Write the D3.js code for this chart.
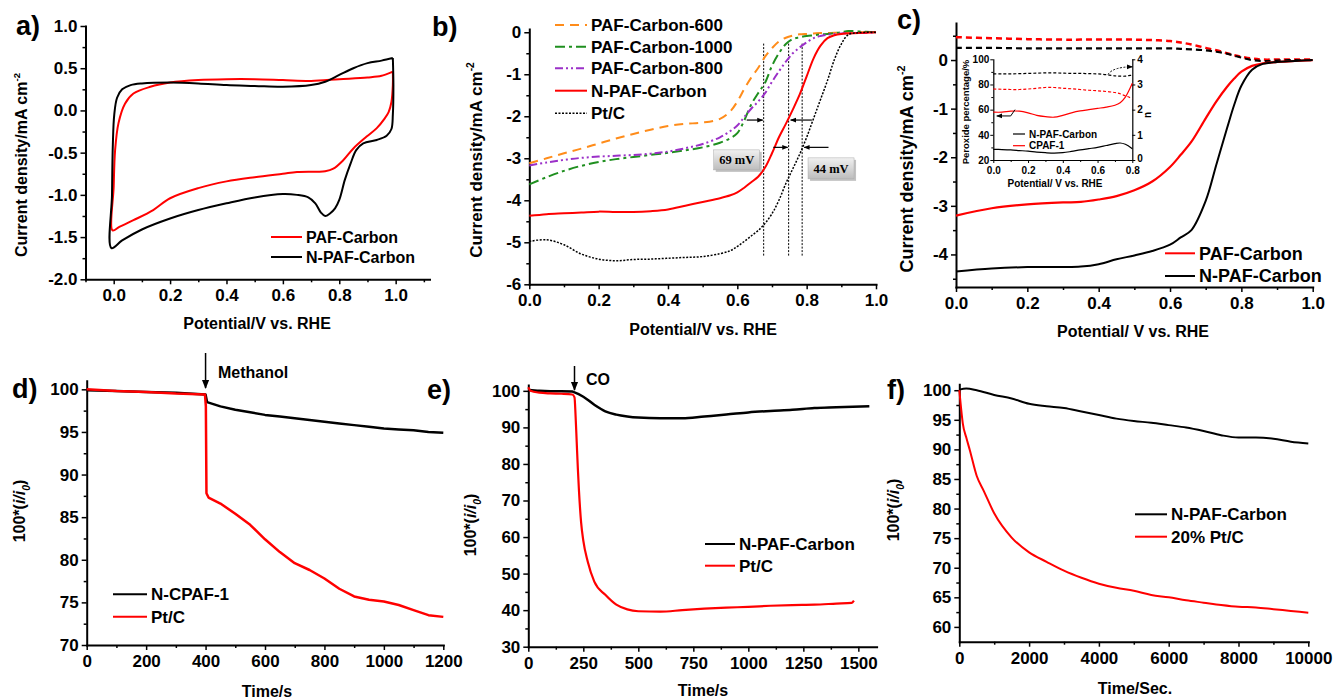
<!DOCTYPE html>
<html><head><meta charset="utf-8">
<script src="https://cdn.jsdelivr.net/npm/d3@7"></script>
<style>
body{margin:0;background:#fff}
svg{display:block}
</style></head><body>
<svg id="chart" width="1333" height="699"></svg>
<script>
// ---------------- DATA ----------------
// a) CV loops (potential V, current density mA cm-2)
const aPafV = [0.99,0.99,0.985,0.975,0.96,0.933,0.897,0.85,0.814,0.779,0.75,0.65,0.6,0.5,0.4,0.3,0.2,0.14,0.07,0.02,-0.004,0.0,0.005,0.017,0.04,0.07,0.13,0.2,0.3,0.4,0.5,0.6,0.7,0.8,0.9,0.95,0.99];
const aPafJ = [0.46,0.3,0.1,-0.02,-0.1,-0.21,-0.31,-0.45,-0.59,-0.69,-0.72,-0.73,-0.75,-0.79,-0.84,-0.92,-1.04,-1.18,-1.3,-1.38,-1.42,-0.9,-0.47,-0.15,0.08,0.2,0.28,0.33,0.36,0.37,0.37,0.36,0.35,0.37,0.39,0.41,0.46];
const aNpafV = [0.99,0.992,0.99,0.985,0.968,0.933,0.885,0.86,0.84,0.82,0.8,0.785,0.767,0.75,0.735,0.715,0.69,0.65,0.6,0.5,0.4,0.3,0.2,0.1,0.03,-0.008,-0.006,-0.003,0.002,0.012,0.03,0.06,0.1,0.2,0.3,0.4,0.5,0.6,0.7,0.75,0.8,0.85,0.9,0.95,0.99];
const aNpafJ = [0.62,0.3,-0.05,-0.22,-0.3,-0.35,-0.39,-0.47,-0.63,-0.82,-1.06,-1.16,-1.22,-1.25,-1.21,-1.1,-1.03,-1.0,-0.99,-1.03,-1.1,-1.18,-1.28,-1.41,-1.54,-1.63,-1.0,-0.4,-0.05,0.15,0.25,0.3,0.32,0.33,0.32,0.3,0.29,0.28,0.3,0.34,0.42,0.5,0.56,0.59,0.62];
// b) LSV
const bV = [0,0.05,0.1,0.15,0.2,0.25,0.3,0.35,0.4,0.45,0.5,0.55,0.58,0.6,0.62,0.64,0.66,0.68,0.7,0.72,0.74,0.76,0.78,0.8,0.82,0.84,0.86,0.88,0.9,0.92,0.95,1.0];
const b600 = [-3.12,-3.0,-2.88,-2.77,-2.65,-2.53,-2.42,-2.32,-2.23,-2.18,-2.15,-2.06,-1.88,-1.65,-1.35,-1.08,-0.85,-0.58,-0.38,-0.22,-0.13,-0.08,-0.05,-0.04,-0.03,-0.02,-0.02,-0.01,-0.01,-0.01,0,0];
const b1000 = [-3.62,-3.45,-3.3,-3.18,-3.09,-3.02,-2.97,-2.92,-2.87,-2.81,-2.74,-2.63,-2.52,-2.4,-2.1,-1.72,-1.45,-1.2,-0.8,-0.5,-0.28,-0.16,-0.12,-0.09,-0.07,-0.05,-0.04,-0.02,0.0,0.03,0.02,0.0];
const b800 = [-3.17,-3.1,-3.04,-2.99,-2.96,-2.94,-2.92,-2.89,-2.84,-2.76,-2.66,-2.5,-2.35,-2.22,-2.02,-1.82,-1.65,-1.45,-1.18,-0.93,-0.7,-0.5,-0.36,-0.24,-0.14,-0.09,-0.06,-0.04,-0.03,-0.02,-0.02,-0.01];
const bNpaf = [-4.37,-4.33,-4.31,-4.29,-4.27,-4.28,-4.28,-4.26,-4.22,-4.13,-4.04,-3.95,-3.88,-3.81,-3.7,-3.57,-3.44,-3.22,-2.88,-2.5,-2.18,-1.84,-1.48,-1.05,-0.62,-0.32,-0.14,-0.07,-0.04,-0.03,-0.02,0.0];
const bPtc = [-4.98,-4.94,-5.06,-5.28,-5.4,-5.44,-5.41,-5.4,-5.38,-5.36,-5.34,-5.27,-5.2,-5.1,-4.98,-4.85,-4.72,-4.55,-4.32,-4.0,-3.6,-3.25,-2.9,-2.5,-2.05,-1.6,-1.15,-0.65,-0.28,-0.06,-0.01,0.0];
const bMarkV = [0.676, 0.748, 0.787];
const bNotes = ["69 mV", "44 mV"];
// c) RRDE
const cV = [0,0.1,0.2,0.3,0.35,0.4,0.45,0.5,0.55,0.6,0.63,0.66,0.7,0.73,0.76,0.78,0.8,0.83,0.86,0.9,0.95,1.0];
const cPaf = [-3.2,-3.05,-2.97,-2.93,-2.92,-2.87,-2.8,-2.68,-2.5,-2.2,-1.95,-1.68,-1.2,-0.85,-0.55,-0.38,-0.24,-0.12,-0.07,-0.04,-0.02,0];
const cNpaf = [-4.35,-4.29,-4.26,-4.26,-4.25,-4.2,-4.1,-4.02,-3.93,-3.8,-3.65,-3.5,-2.9,-2.15,-1.4,-0.92,-0.53,-0.2,-0.08,-0.04,-0.02,0];
const cPafRing = [0.47,0.45,0.43,0.42,0.42,0.42,0.42,0.42,0.41,0.39,0.36,0.32,0.25,0.2,0.14,0.1,0.07,0.03,0.01,0.01,0.01,0.01];
const cNpafRing = [0.25,0.25,0.24,0.24,0.24,0.24,0.24,0.24,0.24,0.24,0.23,0.22,0.2,0.17,0.13,0.09,0.05,0.0,-0.02,-0.01,0,0];
// c inset
const iV = [0,0.05,0.1,0.15,0.2,0.25,0.3,0.35,0.4,0.45,0.5,0.55,0.6,0.65,0.7,0.73,0.76,0.78,0.8];
const iNpafPerox = [28.5,28.3,28,27.5,27,26.3,25.8,25.5,25.8,26.8,28,29,30,31.5,33,33.5,32.5,31,29];
const iCpafPerox = [58,58,58.8,58.8,57.5,55.5,54.5,54,55.5,57.5,59,60,61,62,63.5,65.5,70,75,81];
const iCpafN = [2.82,2.81,2.8,2.8,2.82,2.85,2.88,2.88,2.85,2.83,2.8,2.77,2.75,2.72,2.68,2.63,2.55,2.5,2.42];
const iNpafN = [3.42,3.42,3.42,3.43,3.44,3.45,3.46,3.46,3.45,3.44,3.44,3.43,3.42,3.39,3.34,3.33,3.33,3.35,3.37];
// d) methanol tolerance
const dBlackT = [0,100,200,300,400,405,450,500,550,600,650,700,750,800,850,900,950,1000,1050,1100,1150,1200];
const dBlackV = [99.9,99.8,99.7,99.6,99.4,98.5,98.0,97.6,97.3,97.0,96.8,96.6,96.4,96.2,96.0,95.8,95.6,95.4,95.3,95.2,95.0,94.9];
const dRedT = [0,100,200,300,398,401,403,410,450,500,550,600,650,700,750,800,850,900,950,1000,1050,1100,1150,1200];
const dRedV = [100,99.8,99.7,99.5,99.4,98,87.8,87.3,86.6,85.4,84.1,82.4,80.9,79.6,78.8,77.8,76.6,75.7,75.3,75.1,74.7,74.1,73.5,73.3];
// e) CO tolerance
const eBlackT = [0,50,100,150,200,210,250,300,350,400,450,500,600,700,800,900,1000,1100,1200,1300,1400,1550];
const eBlackV = [100.3,100,99.9,99.9,99.8,99.6,98.4,96.2,94.4,93.5,93.0,92.7,92.5,92.5,93.0,93.5,94.1,94.5,94.8,95.3,95.5,95.8];
const eRedT = [0,10,50,100,150,200,210,215,220,225,230,240,250,270,300,350,400,450,500,600,700,800,900,1000,1100,1200,1300,1400,1470,1480];
const eRedV = [101,100,99.5,99.3,99.2,99.0,98.2,93,86,79,73,64,59,53.3,47.8,44.2,41.5,40.2,39.7,39.6,40.0,40.4,40.7,40.9,41.2,41.4,41.5,41.8,42.0,42.6];
// f) durability
const fBlackT = [0,200,500,1000,1500,2000,2500,3000,3500,4000,4500,5000,5500,6000,6500,7000,7500,8000,8500,9000,9500,10000];
const fBlackV = [100.1,100.3,100,99.2,98.6,97.7,97.3,97.0,96.4,95.8,95.2,94.8,94.5,94.1,93.7,93.1,92.4,92.0,92.0,91.8,91.3,91.0];
const fRedT = [0,50,100,200,300,500,700,1000,1500,2000,2500,3000,3500,4000,4500,5000,5500,6000,6500,7000,7500,8000,8500,9000,9500,10000];
const fRedV = [100,97,94.4,92,89.9,85.5,83,79.2,75.1,72.6,71.0,69.5,68.3,67.3,66.6,66.1,65.4,65.0,64.5,64.1,63.7,63.4,63.3,63.0,62.7,62.4];
// tick labels
const aXT = [0,0.2,0.4,0.6,0.8,1.0], aXL = ["0.0","0.2","0.4","0.6","0.8","1.0"];
const aYT = [-2,-1.5,-1,-0.5,0,0.5,1], aYL = ["-2.0","-1.5","-1.0","-0.5","0.0","0.5","1.0"];
const bXT = [0,0.2,0.4,0.6,0.8,1.0], bXL = ["0.0","0.2","0.4","0.6","0.8","1.0"];
const bYT = [-6,-5,-4,-3,-2,-1,0], bYL = ["-6","-5","-4","-3","-2","-1","0"];
const cXT = [0,0.2,0.4,0.6,0.8,1.0], cXL = ["0.0","0.2","0.4","0.6","0.8","1.0"];
const cYT = [-4,-3,-2,-1,0], cYL = ["-4","-3","-2","-1","0"];
const iXT = [0,0.2,0.4,0.6,0.8], iXL = ["0.0","0.2","0.4","0.6","0.8"];
const iYT = [20,40,60,80,100], iYL = ["20","40","60","80","100"];
const iRT = [0,1,2,3,4], iRL = ["0","1","2","3","4"];
const dXT = [0,200,400,600,800,1000,1200], dXL = ["0","200","400","600","800","1000","1200"];
const dYT = [70,75,80,85,90,95,100], dYL = ["70","75","80","85","90","95","100"];
const eXT = [0,250,500,750,1000,1250,1500], eXL = ["0","250","500","750","1000","1250","1500"];
const eYT = [30,40,50,60,70,80,90,100], eYL = ["30","40","50","60","70","80","90","100"];
const fXT = [0,2000,4000,6000,8000,10000], fXL = ["0","2000","4000","6000","8000","10000"];
const fYT = [60,65,70,75,80,85,90,95,100], fYL = ["60","65","70","75","80","85","90","95","100"];

// ---------------- DRAWING ----------------
const FONT = '"Liberation Sans", Arial, Helvetica, sans-serif';
const RED = '#ff0000';
const TICKFS = 17;
const svg = d3.select('#chart').attr('font-family', FONT).attr('font-weight', 'bold');
const defs = svg.append('defs');
function marker(id, size) {
  defs.append('marker').attr('id', id).attr('viewBox', '0 0 10 10').attr('refX', 9).attr('refY', 5)
    .attr('markerUnits', 'userSpaceOnUse').attr('markerWidth', size).attr('markerHeight', size).attr('orient', 'auto')
    .append('path').attr('d', 'M0,1L10,5L0,9z').attr('fill', '#000');
}
marker('ahBig', 9); marker('ahSmall', 6);
const grad = defs.append('linearGradient').attr('id', 'boxg').attr('x1', 0).attr('y1', 0).attr('x2', 0).attr('y2', 1);
grad.append('stop').attr('offset', '0').attr('stop-color', '#f0f0f0');
grad.append('stop').attr('offset', '1').attr('stop-color', '#bdbdbd');

function styleAxis(g, fs, sw, tw) {
  g.attr('font-family', FONT).attr('font-size', fs).attr('font-weight', 'bold');
  g.selectAll('.domain').attr('stroke-width', sw).attr('stroke', '#000');
  g.selectAll('.tick line').attr('stroke-width', tw).attr('stroke', '#000');
  g.selectAll('.tick text').attr('fill', '#000');
}
function drawAxes(x, y, o) {
  const fs = o.fs || TICKFS, sw = o.sw || 2, tw = o.tw || 1.5, ts = o.ts || 5, ms = o.ms || 3;
  const y0 = y.range()[0], x0 = x.range()[0];
  if (o.xm) {
    const g = svg.append('g').attr('transform', `translate(0,${y0})`)
      .call(d3.axisBottom(x).tickValues(o.xm).tickFormat('').tickSizeInner(ms).tickSizeOuter(0));
    g.select('.domain').remove(); styleAxis(g, fs, sw, tw);
  }
  if (o.ym) {
    const g = svg.append('g').attr('transform', `translate(${x0},0)`)
      .call(d3.axisLeft(y).tickValues(o.ym).tickFormat('').tickSizeInner(ms).tickSizeOuter(0));
    g.select('.domain').remove(); styleAxis(g, fs, sw, tw);
  }
  const gx = svg.append('g').attr('transform', `translate(0,${y0})`)
    .call(d3.axisBottom(x).tickValues(o.xt).tickFormat((d, i) => o.xl[i]).tickSizeInner(ts).tickSizeOuter(0).tickPadding(o.xp || 5));
  styleAxis(gx, fs, sw, tw);
  const gy = svg.append('g').attr('transform', `translate(${x0},0)`)
    .call(d3.axisLeft(y).tickValues(o.yt).tickFormat((d, i) => o.yl[i]).tickSizeInner(ts).tickSizeOuter(0).tickPadding(o.yp || 3));
  styleAxis(gy, fs, sw, tw);
  svg.selectAll('.domain').attr('stroke-linecap', 'square');
}
function line(x, y, xs, ys, st) {
  const gen = d3.line().x(d => x(d[0])).y(d => y(d[1])).curve(st.curve || d3.curveCatmullRom.alpha(0.5));
  svg.append('path').datum(d3.zip(xs, ys)).attr('d', gen).attr('fill', 'none')
    .attr('stroke', st.color).attr('stroke-width', st.w || 2).attr('stroke-dasharray', st.dash || null)
    .attr('stroke-linejoin', 'round');
}
function text(x, y, s, o = {}) {
  const t = svg.append('text').attr('x', x).attr('y', y).attr('font-size', o.fs || 16)
    .attr('text-anchor', o.anchor || 'start').attr('fill', '#000').text(s);
  if (o.family) t.attr('font-family', o.family);
  return t;
}
function legendItem(x1, x2, y, label, st, fs) {
  svg.append('line').attr('x1', x1).attr('x2', x2).attr('y1', y).attr('y2', y)
    .attr('stroke', st.color).attr('stroke-width', st.w || 2).attr('stroke-dasharray', st.dash || null);
  text(x2 + 4, y + fs * 0.36, label, { fs });
}
function yTitleCD(x, y, fs) {
  const t = svg.append('text').attr('transform', `translate(${x},${y}) rotate(-90)`).attr('text-anchor', 'middle')
    .attr('font-size', fs).attr('fill', '#000');
  t.append('tspan').text('Current density/mA cm');
  t.append('tspan').attr('font-size', fs * 0.6).attr('dy', -fs * 0.45).text('-2');
}
function yTitleI(x, y, fs) {
  const t = svg.append('text').attr('transform', `translate(${x},${y}) rotate(-90)`).attr('text-anchor', 'middle')
    .attr('font-size', fs).attr('fill', '#000');
  t.append('tspan').text('100*(');
  t.append('tspan').attr('font-style', 'italic').text('i/i');
  t.append('tspan').attr('font-style', 'italic').attr('font-size', fs * 0.65).attr('dy', fs * 0.3).text('0');
  t.append('tspan').attr('dy', -fs * 0.3).text(')');
}
function arr(x1, y1, x2, y2, m, w) {
  svg.append('line').attr('x1', x1).attr('y1', y1).attr('x2', x2).attr('y2', y2).attr('stroke', '#000')
    .attr('stroke-width', w || 1.2).attr('marker-end', `url(#${m})`);
}
const step = (a, b, s) => d3.range(a, b + s / 2, s);

// ===== Panel a =====
const ax = d3.scaleLinear().domain([-0.1, 1.12]).range([85.5, 429.5]);
const ay = d3.scaleLinear().domain([-2, 1]).range([279.3, 26]);
drawAxes(ax, ay, { xt: aXT, xl: aXL, yt: aYT, yl: aYL, xm: step(-0.1, 1.1, 0.2), ym: step(-1.75, 0.75, 0.5) });
line(ax, ay, aPafV, aPafJ, { color: RED, w: 2 });
line(ax, ay, aNpafV, aNpafJ, { color: '#000', w: 2 });
legendItem(271, 302, 237, 'PAF-Carbon', { color: RED }, 16);
legendItem(271, 302, 257, 'N-PAF-Carbon', { color: '#000' }, 16);
yTitleCD(27, 165, 16);
text(257, 329, 'Potential/V vs. RHE', { anchor: 'middle' });
text(16, 35, 'a)', { fs: 27 });

// ===== Panel b =====
const bx = d3.scaleLinear().domain([0, 1]).range([529.3, 876]);
const by = d3.scaleLinear().domain([-6, 0.08]).range([284.3, 28.9]);
drawAxes(bx, by, { xt: bXT, xl: bXL, yt: bYT, yl: bYL, xm: step(0.1, 0.9, 0.2), ym: step(-5.5, -0.5, 1) });
bMarkV.forEach(v => svg.append('line').attr('x1', bx(v)).attr('x2', bx(v)).attr('y1', by(-0.27)).attr('y2', by(-5.35))
  .attr('stroke', '#000').attr('stroke-width', 1).attr('stroke-dasharray', '2,1.5'));
line(bx, by, bV, b600, { color: '#ff8c1a', dash: '9,6', w: 2 });
line(bx, by, bV, b1000, { color: '#1f8f1f', dash: '10,4,3,4', w: 2 });
line(bx, by, bV, b800, { color: '#9b30c8', dash: '8,3,2,3,2,3', w: 2 });
line(bx, by, bV, bNpaf, { color: RED, w: 2 });
line(bx, by, bV, bPtc, { color: '#000', dash: '2,1.5', w: 1.5 });
arr(bx(0.627), by(-2.09), bx(bMarkV[0]) - 1, by(-2.09), 'ahSmall');
arr(bx(0.815), by(-2.09), bx(bMarkV[1]) + 2, by(-2.09), 'ahSmall');
arr(bx(0.704), by(-2.74), bx(bMarkV[1]) - 1, by(-2.74), 'ahSmall');
arr(bx(0.863), by(-2.74), bx(bMarkV[2]) + 2, by(-2.74), 'ahSmall');
function noteBox(x0, y0, w, h, s) {
  svg.append('rect').attr('x', x0 + 2).attr('y', y0 + 2).attr('width', w).attr('height', h).attr('fill', '#9a9a9a').attr('opacity', 0.6);
  svg.append('rect').attr('x', x0).attr('y', y0).attr('width', w).attr('height', h).attr('fill', 'url(#boxg)').attr('stroke', '#aaa').attr('stroke-width', 0.5);
  text(x0 + w / 2, y0 + h / 2 + 4.5, s, { fs: 12.5, anchor: 'middle', family: '"Liberation Serif", "Times New Roman", serif' });
}
noteBox(bx(0.532), by(-2.8), 46, 20, bNotes[0]);
noteBox(bx(0.804), by(-2.99), 46, 21, bNotes[1]);
legendItem(555, 587, 25, 'PAF-Carbon-600', { color: '#ff8c1a', dash: '9,6' }, 17);
legendItem(555, 587, 46.7, 'PAF-Carbon-1000', { color: '#1f8f1f', dash: '10,4,3,4' }, 17);
legendItem(555, 587, 68.3, 'PAF-Carbon-800', { color: '#9b30c8', dash: '8,3,2,3,2,3' }, 17);
legendItem(555, 587, 90.7, 'N-PAF-Carbon', { color: RED }, 17);
legendItem(555, 587, 113.3, 'Pt/C', { color: '#000', dash: '2,1.5', w: 1.5 }, 17);
yTitleCD(482, 160, 17);
text(703, 335, 'Potential/V vs. RHE', { anchor: 'middle' });
text(432, 36, 'b)', { fs: 27 });

// ===== Panel c =====
const cx = d3.scaleLinear().domain([0, 1]).range([956, 1312.7]);
const cy = d3.scaleLinear().domain([-4.67, 0.76]).range([287, 23.1]);
drawAxes(cx, cy, { xt: cXT, xl: cXL, yt: cYT, yl: cYL, xm: step(0.1, 0.9, 0.2), ym: step(-4.5, 0.5, 1) });
line(cx, cy, cV, cPafRing, { color: RED, dash: '6,4', w: 2.5 });
line(cx, cy, cV, cNpafRing, { color: '#000', dash: '6,4', w: 2.2 });
line(cx, cy, cV, cPaf, { color: RED, w: 2.2 });
line(cx, cy, cV, cNpaf, { color: '#000', w: 2 });
legendItem(1165, 1195, 253.3, 'PAF-Carbon', { color: RED }, 18);
legendItem(1165, 1195, 276, 'N-PAF-Carbon', { color: '#000' }, 18);
yTitleCD(913, 169, 18);
text(1133, 337, 'Potential/ V vs. RHE', { anchor: 'middle' });
text(897, 29, 'c)', { fs: 27 });

// inset
const ix = d3.scaleLinear().domain([0, 0.8]).range([993.3, 1132.3]);
const iy = d3.scaleLinear().domain([20, 100]).range([160, 59.3]);
const iyr = d3.scaleLinear().domain([0, 4]).range([160, 59.3]);
drawAxes(ix, iy, { xt: iXT, xl: iXL, yt: iYT, yl: iYL, xm: step(0.1, 0.7, 0.2), ym: step(30, 90, 20), fs: 10, sw: 1.2, tw: 1, ts: 3, ms: 2, xp: 3.5, yp: 1 });
{
  const g = svg.append('g').attr('transform', `translate(${ix.range()[1]},0)`)
    .call(d3.axisRight(iyr).tickValues(iRT).tickFormat((d, i) => iRL[i]).tickSizeInner(3).tickSizeOuter(0).tickPadding(2));
  styleAxis(g, 10, 1.2, 1);
  g.selectAll('.tick text').attr('dy', (d) => d === 0 ? '0.1em' : '0.32em');
}
line(ix, iyr, iV, iNpafN, { color: '#000', dash: '3,2', w: 1.2 });
line(ix, iyr, iV, iCpafN, { color: RED, dash: '3,2', w: 1.2 });
line(ix, iy, iV, iNpafPerox, { color: '#000', w: 1.2 });
line(ix, iy, iV, iCpafPerox, { color: RED, w: 1.2 });
svg.append('path').attr('d', `M${ix(0.66)},${iyr(3.4)} Q${ix(0.69)},${iyr(3.7)} ${ix(0.8)},${iyr(3.7)}`)
  .attr('fill', 'none').attr('stroke', '#000').attr('stroke-width', 1).attr('stroke-dasharray', '2,1.5').attr('marker-end', 'url(#ahSmall)');
svg.append('path').attr('d', `M${ix(0.125)},${iy(60)} L${ix(0.1)},${iy(55)} L${ix(0.02)},${iy(55)}`)
  .attr('fill', 'none').attr('stroke', '#000').attr('stroke-width', 1).attr('marker-end', 'url(#ahSmall)');
legendItem(1013, 1025, 134, 'N-PAF-Carbon', { color: '#000', w: 1.2 }, 10);
legendItem(1013, 1025, 145.7, 'CPAF-1', { color: RED, w: 1.2 }, 10);
svg.append('text').attr('transform', 'translate(969,112) rotate(-90)').attr('text-anchor', 'middle').attr('font-size', 9.5).text('Peroxide percentage/%');
svg.append('text').attr('transform', 'translate(1151,115) rotate(-90)').attr('text-anchor', 'middle').attr('font-size', 10).text('n');
text(1055, 187, 'Potential/ V vs. RHE', { fs: 10, anchor: 'middle' });

// ===== Panel d =====
const dx = d3.scaleLinear().domain([0, 1200]).range([86.7, 443.3]);
const dy = d3.scaleLinear().domain([70, 101]).range([645, 380.8]);
drawAxes(dx, dy, { xt: dXT, xl: dXL, yt: dYT, yl: dYL, xm: step(100, 1100, 200), ym: step(72.5, 97.5, 5) });
line(dx, dy, dBlackT, dBlackV, { color: '#000', w: 2.5, curve: d3.curveLinear });
line(dx, dy, dRedT, dRedV, { color: RED, w: 2.5, curve: d3.curveLinear });
arr(dx(400), 353, dx(400), 388, 'ahBig', 1.5);
text(218, 378, 'Methanol', { fs: 16 });
legendItem(113, 147, 594.3, 'N-CPAF-1', { color: '#000' }, 17);
legendItem(113, 147, 616.7, 'Pt/C', { color: RED }, 17);
yTitleI(25, 511, 16);
text(267, 697, 'Time/s', { anchor: 'middle' });
text(12, 398, 'd)', { fs: 27 });

// ===== Panel e =====
const ex = d3.scaleLinear().domain([0, 1583]).range([528.3, 876.6]);
const ey = d3.scaleLinear().domain([30, 101.6]).range([646.7, 385]);
drawAxes(ex, ey, { xt: eXT, xl: eXL, yt: eYT, yl: eYL, xm: step(125, 1375, 250), ym: step(35, 95, 10) });
line(ex, ey, eBlackT, eBlackV, { color: '#000', w: 2.5, curve: d3.curveMonotoneX });
line(ex, ey, eRedT, eRedV, { color: RED, w: 2.2, curve: d3.curveMonotoneX });
arr(ex(210), 366, ex(210), 390, 'ahBig', 1.5);
text(586, 385, 'CO', { fs: 16 });
legendItem(705, 735, 544, 'N-PAF-Carbon', { color: '#000' }, 17);
legendItem(705, 735, 565.7, 'Pt/C', { color: RED }, 17);
yTitleI(476, 525, 16);
text(703, 696, 'Time/s', { anchor: 'middle' });
text(427, 399, 'e)', { fs: 27 });

// ===== Panel f =====
const fx = d3.scaleLinear().domain([0, 10000]).range([959.3, 1308.3]);
const fy = d3.scaleLinear().domain([57.5, 101]).range([641.7, 384.3]);
drawAxes(fx, fy, { xt: fXT, xl: fXL, yt: fYT, yl: fYL, xm: step(1000, 9000, 2000), ym: step(62.5, 97.5, 5) });
line(fx, fy, fBlackT, fBlackV, { color: '#000', w: 2, curve: d3.curveMonotoneX });
line(fx, fy, fRedT, fRedV, { color: RED, w: 2, curve: d3.curveMonotoneX });
legendItem(1135, 1167, 514.3, 'N-PAF-Carbon', { color: '#000' }, 17);
legendItem(1135, 1167, 536.7, '20% Pt/C', { color: RED }, 17);
yTitleI(899, 510, 16);
text(1135, 694, 'Time/Sec.', { anchor: 'middle' });
text(887, 399, 'f)', { fs: 27 });
</script>
</body></html>
